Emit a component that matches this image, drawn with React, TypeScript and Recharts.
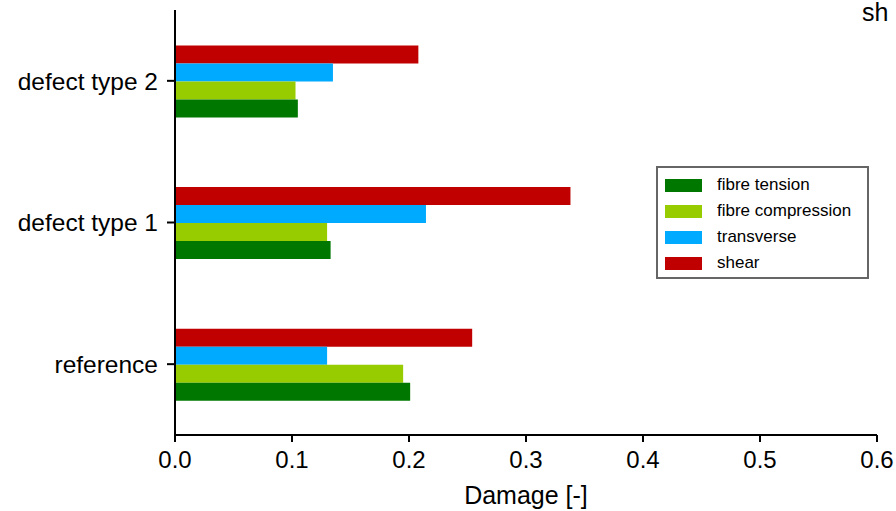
import React from 'react'
import {
  BarChart,
  Bar,
  XAxis,
  YAxis,
} from 'recharts'

// categories listed top to bottom, as drawn
const categories = ['defect type 2', 'defect type 1', 'reference']

const fibreTension     = [0.105, 0.133, 0.201]
const fibreCompression = [0.103, 0.130, 0.195]
const transverse       = [0.135, 0.2145, 0.130]
const shear            = [0.208, 0.338, 0.254]

const xTicks = [0, 0.1, 0.2, 0.3, 0.4, 0.5, 0.6]

const SERIES = [
  { key: 'fibreTension',     name: 'fibre tension',     color: '#007800' },
  { key: 'fibreCompression', name: 'fibre compression', color: '#96cc00' },
  { key: 'transverse',       name: 'transverse',        color: '#00aaff' },
  { key: 'shear',            name: 'shear',             color: '#c00000' },
]

const data = categories.map((c, i) => ({
  category: c,
  fibreTension: fibreTension[i],
  fibreCompression: fibreCompression[i],
  transverse: transverse[i],
  shear: shear[i],
}))

const FONT = '"Liberation Sans", Arial, sans-serif'

function LegendBox() {
  return (
    <div
      style={{
        position: 'absolute',
        left: 656,
        top: 166,
        width: 213,
        height: 113,
        border: '2px solid #666',
        background: '#fff',
        boxSizing: 'border-box',
        padding: '4px 0 0 7px',
        fontFamily: FONT,
        fontSize: 17,
        color: '#000',
      }}
    >
      {SERIES.map((s) => (
        <div key={s.key} style={{ display: 'flex', alignItems: 'center', height: 26 }}>
          <span style={{ width: 37, height: 13, background: s.color, display: 'inline-block', flex: 'none' }} />
          <span style={{ marginLeft: 15, whiteSpace: 'nowrap' }}>{s.name}</span>
        </div>
      ))}
    </div>
  )
}

export default function App() {
  // bars within a band go top->bottom, so draw shear first
  const drawOrder = [...SERIES].reverse()
  return (
    <div style={{ position: 'absolute', left: 0, top: 0, width: 896, height: 511, background: '#fff', overflow: 'hidden' }}>
      <BarChart
        width={896}
        height={511}
        data={data}
        layout="vertical"
        margin={{ top: 10, right: 19, left: 0, bottom: 0 }}
        barCategoryGap="25%"
        barGap={0}
      >
        <XAxis
          type="number"
          domain={[0, 0.6]}
          ticks={xTicks}
          tickFormatter={(v) => Number(v).toFixed(1)}
          height={76}
          stroke="#000"
          strokeWidth={2}
          tickSize={7}
          tickMargin={9}
          tick={{ fill: '#000', fontSize: 24, fontFamily: FONT }}
          allowDataOverflow
          label={{ value: 'Damage [-]', position: 'insideBottom', offset: 7, fill: '#000', fontSize: 25, fontFamily: FONT }}
        />
        <YAxis
          type="category"
          dataKey="category"
          width={175}
          stroke="#000"
          strokeWidth={2}
          tickSize={8}
          tickMargin={9}
          tick={{ fill: '#000', fontSize: 24.5, fontFamily: FONT }}
        />
        {drawOrder.map((s) => (
          <Bar key={s.key} dataKey={s.key} name={s.name} fill={s.color} isAnimationActive={false} />
        ))}
        <text x={862} y={21} fontSize={25} fontFamily={FONT} fill="#000">sh</text>
      </BarChart>
      <LegendBox />
    </div>
  )
}
